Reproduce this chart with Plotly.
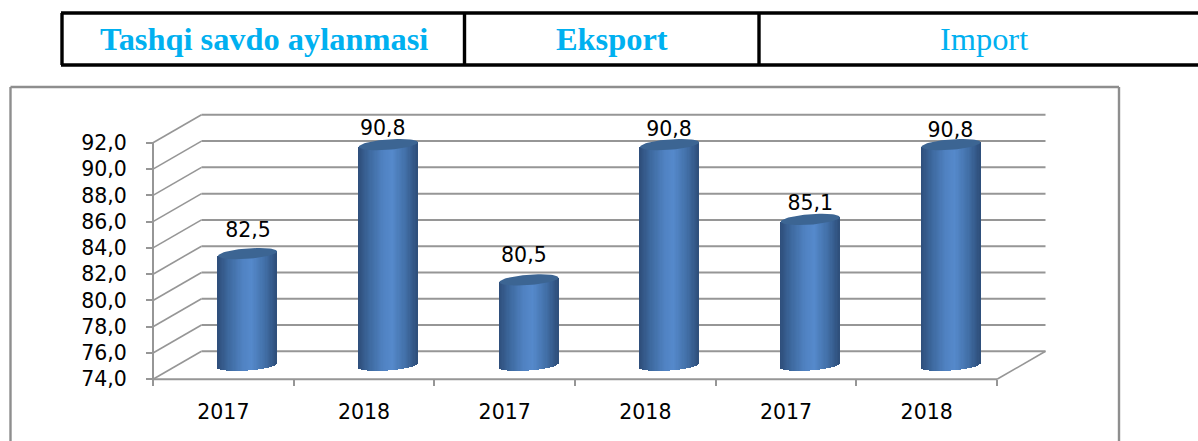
import math
import plotly.graph_objects as go

# ---- data ----
years = ["2017", "2018", "2017", "2018", "2017", "2018"]
values = [82.5, 90.8, 80.5, 90.8, 85.1, 90.8]
value_labels = ["82,5", "90,8", "80,5", "90,8", "85,1", "90,8"]
y_ticks = [74, 76, 78, 80, 82, 84, 86, 88, 90, 92]
y_tick_labels = ["74,0", "76,0", "78,0", "80,0", "82,0", "84,0", "86,0", "88,0", "90,0", "92,0"]
headers = ["Tashqi savdo aylanmasi", "Eksport", "Import"]

# ---- geometry (pixel frame of the page) ----
W, H = 1198, 441
X0_PX, X6_PX = 153.0, 997.0
Y74_PX, Y92_PX = 379.3, 142.8
PX_PER_CAT = (X6_PX - X0_PX) / 6
PX_PER_VAL = (Y74_PX - Y92_PX) / 18
DEPTH_X = 48.5 / PX_PER_CAT      # wall depth along x, data units
DEPTH_Y = 28.0 / PX_PER_VAL      # wall depth along y, data units
BAR_W = 59.0 / PX_PER_CAT
CAP_B = 5.2 / PX_PER_VAL         # half height of the elliptical ends
CAP_TILT = 2.2 / PX_PER_VAL      # right side of the ellipse sits higher
STRIPS = 48
label_lift_px = [22.0, 15.0, 23.0, 14.0, 14.5, 13.0]
label_shift_px = [0.5, -5.5, -5.0, -0.5, 0.0, -0.5]

GRID = "#969696"
FRAME = "#8e8e8e"
CYAN = "#00B0F0"
STOPS = [(-1.0, (46, 78, 122)), (-0.6, (62, 106, 160)), (-0.15, (80, 130, 194)),
         (0.15, (85, 137, 203)), (0.6, (66, 112, 168)), (1.0, (46, 78, 122))]


def shade(u):
    for (a, ca), (b, cb) in zip(STOPS, STOPS[1:]):
        if a <= u <= b:
            t = (u - a) / (b - a)
            c = [round(p + (q - p) * t) for p, q in zip(ca, cb)]
            return f"rgb({c[0]},{c[1]},{c[2]})"
    return "rgb(46,78,122)"


def xp(px):
    return px / W


def yp(px):
    return 1 - px / H


fig = go.Figure()

# ---- cylinder bodies, drawn as thin bars for the side shading ----
sx, sy, sbase, swidth, scolor = [], [], [], [], []
for i, v in enumerate(values):
    cx = i + 0.5 + DEPTH_X / 2
    base_c = 74 + DEPTH_Y / 2
    top_c = v + DEPTH_Y / 2
    for k in range(STRIPS):
        u = -1 + (k + 0.5) * 2 / STRIPS
        curve = CAP_B * math.sqrt(1 - u * u)
        low = base_c + CAP_TILT * u - curve
        high = top_c + CAP_TILT * u
        sx.append(cx + u * BAR_W / 2)
        sbase.append(low)
        sy.append(high - low)
        swidth.append(BAR_W / STRIPS * 1.25)
        scolor.append(shade(u))
fig.add_trace(go.Bar(x=sx, y=sy, base=sbase, width=swidth,
                     marker=dict(color=scolor, line=dict(width=0)),
                     hoverinfo="skip", showlegend=False))

# ---- top ellipses ----
ex, ey = [], []
for i, v in enumerate(values):
    cx = i + 0.5 + DEPTH_X / 2
    cy = v + DEPTH_Y / 2
    for d in range(0, 361, 6):
        t = math.radians(d)
        ex.append(cx + BAR_W / 2 * math.cos(t))
        ey.append(cy + CAP_B * math.sin(t) + CAP_TILT * math.cos(t))
    ex.append(None)
    ey.append(None)
fig.add_trace(go.Scatter(x=ex, y=ey, mode="lines", fill="toself", fillcolor="#3c6593",
                         line=dict(width=0, color="#3c6593"), hoverinfo="skip", showlegend=False))

# ---- value labels ----
fig.add_trace(go.Scatter(
    x=[i + 0.5 + DEPTH_X / 2 + label_shift_px[i] / PX_PER_CAT for i in range(len(values))],
    y=[v + DEPTH_Y / 2 + label_lift_px[i] / PX_PER_VAL for i, v in enumerate(values)],
    mode="text", text=value_labels, textposition="middle center",
    textfont=dict(family="DejaVu Sans", size=20.5, color="#000000"),
    hoverinfo="skip", showlegend=False))

# ---- 3D walls ----
shapes = []


def data_line(x0, y0, x1, y1, width=2.0, color=GRID):
    shapes.append(dict(type="line", xref="x", yref="y", x0=x0, y0=y0, x1=x1, y1=y1,
                       layer="below", line=dict(color=color, width=width)))


for t in y_ticks:
    data_line(DEPTH_X, t + DEPTH_Y, 6 + DEPTH_X, t + DEPTH_Y)
    data_line(0, t, DEPTH_X, t + DEPTH_Y, width=1.6)
data_line(0, y_ticks[0], 0, y_ticks[-1])
data_line(0, y_ticks[0], 6, y_ticks[0])
data_line(6, y_ticks[0], 6 + DEPTH_X, y_ticks[0] + DEPTH_Y, width=1.6)


def page_line(x0, y0, x1, y1, color, width):
    shapes.append(dict(type="line", xref="paper", yref="paper",
                       x0=xp(x0), y0=yp(y0), x1=xp(x1), y1=yp(y1),
                       layer="below", line=dict(color=color, width=width)))


# chart frame
page_line(10.5, 87, 1119, 87, FRAME, 2.4)
page_line(10.5, 87, 10.5, 441, FRAME, 2.4)
page_line(1119, 87, 1119, 441, FRAME, 2.4)

# header table rules
page_line(61, 13, W, 13, "#000000", 3.4)
page_line(61, 65, W, 65, "#000000", 3.4)
page_line(62, 13, 62, 65, "#000000", 3.4)
page_line(464.5, 13, 464.5, 65, "#000000", 3.4)
page_line(759, 13, 759, 65, "#000000", 3.4)

header_x = [263.5, 611.5, 983.5]
header_bold = [True, True, False]
annotations = [
    dict(xref="paper", yref="paper", x=xp(px), y=yp(39), text=(f"<b>{t}</b>" if b else t),
         showarrow=False, xanchor="center", yanchor="middle",
         font=dict(family="Liberation Serif", size=32.4, color=CYAN))
    for t, px, b in zip(headers, header_x, header_bold)
]

fig.update_layout(
    width=W, height=H, margin=dict(l=0, r=0, t=0, b=0, pad=0),
    paper_bgcolor="#ffffff", plot_bgcolor="rgba(0,0,0,0)",
    barmode="overlay", bargap=0, showlegend=False,
    shapes=shapes, annotations=annotations,
    xaxis=dict(
        range=[-X0_PX / PX_PER_CAT, (W - X0_PX) / PX_PER_CAT],
        domain=[0, 1], anchor="free", position=yp(Y74_PX),
        showgrid=False, zeroline=False, showline=False,
        tickmode="array", tickvals=[i + 0.5 for i in range(len(years))], ticktext=years,
        ticks="", ticklabelstandoff=18,
        tickfont=dict(family="DejaVu Sans", size=20.5, color="#000000"),
        minor=dict(tickmode="array", tickvals=list(range(len(years) + 1)), ticks="outside",
                   ticklen=6, tickwidth=2, tickcolor=GRID, showgrid=False),
    ),
    yaxis=dict(
        range=[74 - (H - Y74_PX) / PX_PER_VAL, 74 + Y74_PX / PX_PER_VAL],
        domain=[0, 1], anchor="free", position=xp(X0_PX),
        showgrid=False, zeroline=False, showline=False,
        tickmode="array", tickvals=y_ticks, ticktext=y_tick_labels,
        ticks="outside", ticklen=7, tickwidth=2, tickcolor=GRID, ticklabelstandoff=15,
        tickfont=dict(family="DejaVu Sans", size=20.5, color="#000000"),
    ),
)

fig.write_html(
    "out.html",
    config={"displayModeBar": False},
    post_script="document.body.style.margin='0';document.body.style.overflow='hidden';",
)
